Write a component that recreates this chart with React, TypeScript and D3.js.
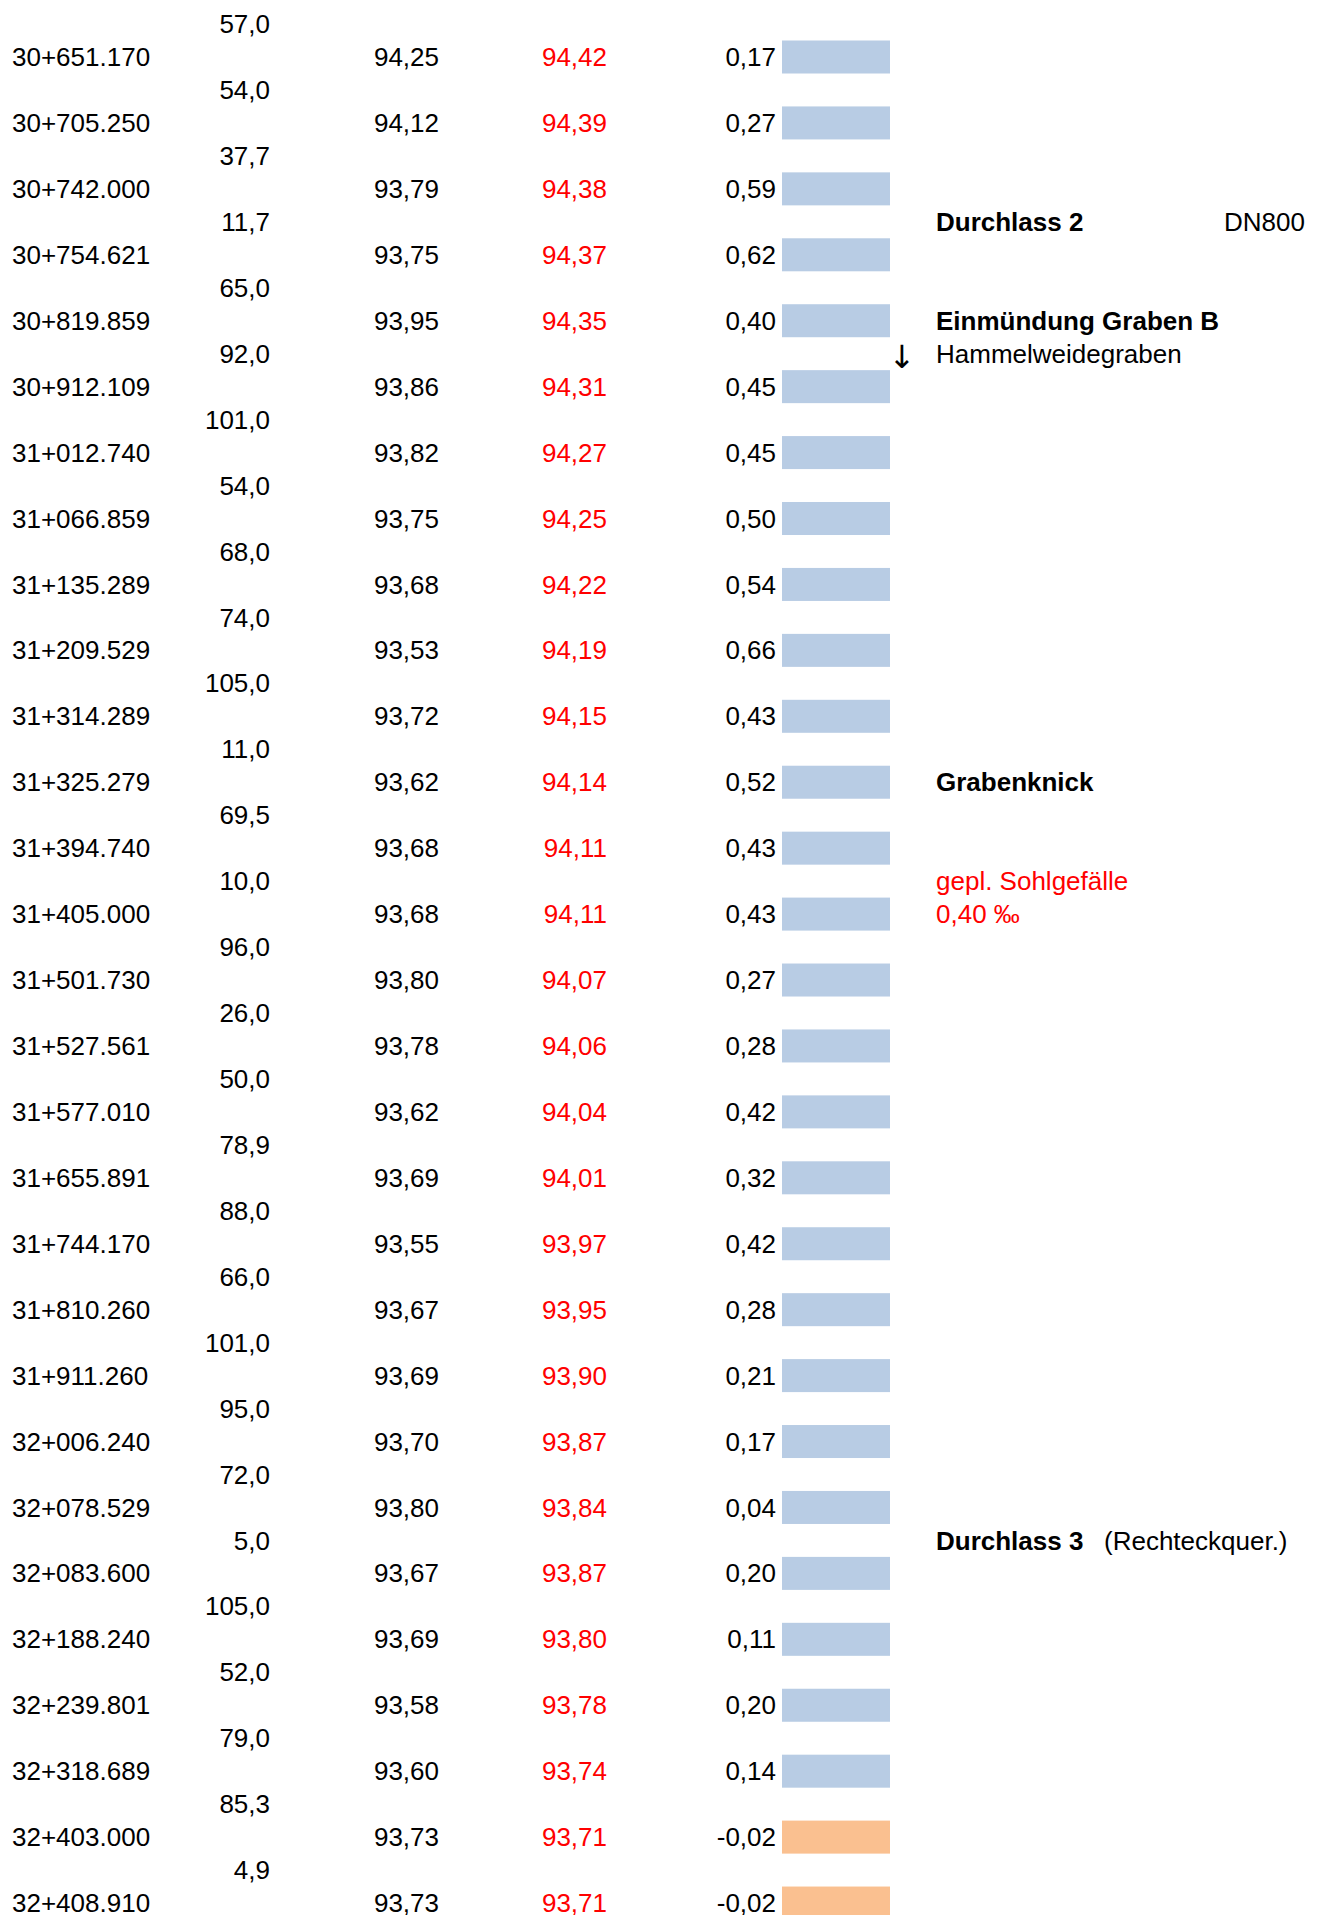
import React from "react";
import * as d3 from "d3";

// Stationen (Reihen) und Abstände dazwischen
const stations = [
  "30+651.170", "30+705.250", "30+742.000", "30+754.621", "30+819.859",
  "30+912.109", "31+012.740", "31+066.859", "31+135.289", "31+209.529",
  "31+314.289", "31+325.279", "31+394.740", "31+405.000", "31+501.730",
  "31+527.561", "31+577.010", "31+655.891", "31+744.170", "31+810.260",
  "31+911.260", "32+006.240", "32+078.529", "32+083.600", "32+188.240",
  "32+239.801", "32+318.689", "32+403.000", "32+408.910",
];

// Abstand zur vorherigen Station (steht jeweils über der Reihe)
const distances = [
  57.0, 54.0, 37.7, 11.7, 65.0, 92.0, 101.0, 54.0, 68.0, 74.0, 105.0, 11.0,
  69.5, 10.0, 96.0, 26.0, 50.0, 78.9, 88.0, 66.0, 101.0, 95.0, 72.0, 5.0,
  105.0, 52.0, 79.0, 85.3, 4.9,
];

const existingSole = [
  94.25, 94.12, 93.79, 93.75, 93.95, 93.86, 93.82, 93.75, 93.68, 93.53, 93.72,
  93.62, 93.68, 93.68, 93.8, 93.78, 93.62, 93.69, 93.55, 93.67, 93.69, 93.7,
  93.8, 93.67, 93.69, 93.58, 93.6, 93.73, 93.73,
];

const plannedSole = [
  94.42, 94.39, 94.38, 94.37, 94.35, 94.31, 94.27, 94.25, 94.22, 94.19, 94.15,
  94.14, 94.11, 94.11, 94.07, 94.06, 94.04, 94.01, 93.97, 93.95, 93.9, 93.87,
  93.84, 93.87, 93.8, 93.78, 93.74, 93.71, 93.71,
];

const differences = [
  0.17, 0.27, 0.59, 0.62, 0.4, 0.45, 0.45, 0.5, 0.54, 0.66, 0.43, 0.52, 0.43,
  0.43, 0.27, 0.28, 0.42, 0.32, 0.42, 0.28, 0.21, 0.17, 0.04, 0.2, 0.11, 0.2,
  0.14, -0.02, -0.02,
];

// Anmerkungen: row = Reihe, half = zwischen Reihen (über der Reihe)
const notes = [
  { row: 3, half: true, text: "Durchlass 2", bold: true, color: "#000" },
  { row: 3, half: true, text: "DN800", bold: false, color: "#000", col: "far" },
  { row: 4, half: false, text: "Einmündung Graben B", bold: true, color: "#000" },
  { row: 5, half: true, text: "Hammelweidegraben", bold: false, color: "#000" },
  { row: 11, half: false, text: "Grabenknick", bold: true, color: "#000" },
  { row: 13, half: true, text: "gepl. Sohlgefälle", bold: false, color: "#ff0000" },
  { row: 13, half: false, text: "0,40 ‰", bold: false, color: "#ff0000" },
  { row: 23, half: true, text: "Durchlass 3", bold: true, color: "#000" },
  { row: 23, half: true, text: "(Rechteckquer.)", bold: false, color: "#000", col: "mid" },
];

const W = 1318;
const H = 1915;
const FONT = "'Liberation Sans', Arial, Helvetica, sans-serif";
const FS = 26;

const fmt1 = (v: number) => v.toFixed(1).replace(".", ",");
const fmt2 = (v: number) => v.toFixed(2).replace(".", ",");

export default function App() {
  const n = stations.length;
  // Reihen-Skala: Mitte jeder Reihe
  const y = d3.scaleLinear().domain([0, n - 1]).range([57, 57 + (n - 1) * 65.93]);
  const rowH = y(1) - y(0);

  // Spalten
  const col = { station: 12, dist: 270, exist: 439, planned: 607, diff: 776, barX: 782, barW: 108 };
  const noteX = { note: 936, mid: 1104, far: 1224 } as Record<string, number>;
  const barH = 33;
  const barColor = (d: number) => (d < 0 ? "#fac090" : "#b8cce4");

  return (
    <div style={{ position: "absolute", left: 0, top: 0 }}>
      <svg width={W} height={H} style={{ display: "block", background: "#fff" }} fontFamily={FONT} fontSize={FS}>
        {stations.map((s, i) => (
          <g key={s}>
            <text x={col.dist} y={y(i) - rowH / 2} dy="0.35em" textAnchor="end" fill="#000">
              {fmt1(distances[i])}
            </text>
            <text x={col.station} y={y(i)} dy="0.35em" fill="#000">{s}</text>
            <text x={col.exist} y={y(i)} dy="0.35em" textAnchor="end" fill="#000">
              {fmt2(existingSole[i])}
            </text>
            <text x={col.planned} y={y(i)} dy="0.35em" textAnchor="end" fill="#ff0000">
              {fmt2(plannedSole[i])}
            </text>
            <text x={col.diff} y={y(i)} dy="0.35em" textAnchor="end" fill="#000">
              {fmt2(differences[i])}
            </text>
            <rect x={col.barX} y={y(i) - barH / 2} width={col.barW} height={barH} fill={barColor(differences[i])} />
          </g>
        ))}

        {notes.map((nt, i) => (
          <text
            key={i}
            x={noteX[nt.col || "note"]}
            y={nt.half ? y(nt.row) - rowH / 2 : y(nt.row)}
            dy="0.35em"
            fill={nt.color}
            fontWeight={nt.bold ? "bold" : "normal"}
          >
            {nt.text}
          </text>
        ))}
        <text
          x={902}
          y={y(5) - rowH / 2 + 3}
          dy="0.35em"
          textAnchor="middle"
          fill="#000"
          fontFamily="'DejaVu Sans', sans-serif"
          fontSize={32}
        >
          ↓
        </text>
      </svg>
    </div>
  );
}
